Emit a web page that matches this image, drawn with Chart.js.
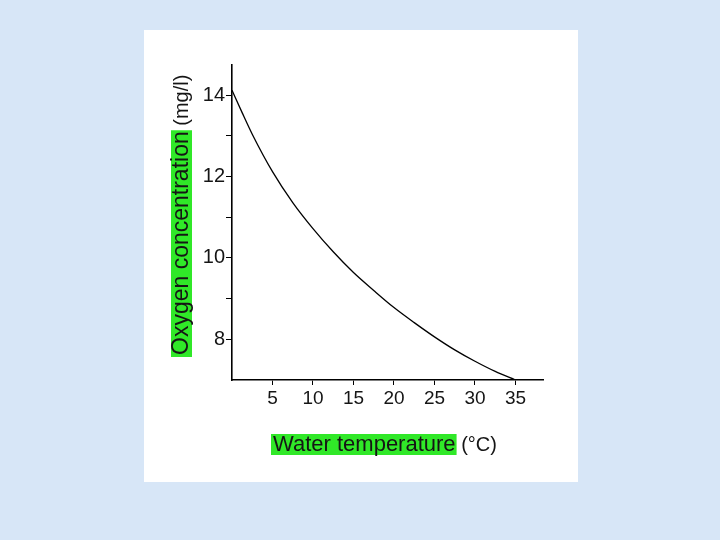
<!DOCTYPE html>
<html>
<head>
<meta charset="utf-8">
<script src="https://cdn.jsdelivr.net/npm/chart.js@4.4.1/dist/chart.umd.min.js"></script>
<style>
	html, body {
		margin: 0;
		padding: 0;
		width: 720px;
		height: 540px;
		background: #d7e6f7;
		overflow: hidden;
	}
	.panel {
		position: absolute;
		left: 144px;
		top: 30px;
		width: 434px;
		height: 452px;
		background: #ffffff;
	}
</style>
</head>
<body>
<div class="panel">
	<canvas id="oxygenChart"></canvas>
</div>
<script>
// oxygen solubility curve
const temps = [0, 1.25, 2.5, 5, 7.5, 10, 12.5, 15, 17.5, 20, 22.5, 25, 27.5, 30, 32.5, 35];
const oxygen = [14.12, 13.57, 13.04, 12.12, 11.36, 10.72, 10.15, 9.64, 9.2, 8.78, 8.41, 8.06, 7.74, 7.46, 7.21, 7.0];

const yTicks = [8, 9, 10, 11, 12, 13, 14];
const yLabelTicks = [8, 10, 12, 14];
const xTicks = [5, 10, 15, 20, 25, 30, 35];

const yTitleMain = 'Oxygen concentration';
const yTitleUnit = ' (mg/l)';
const xTitleMain = 'Water temperature';
const xTitleUnit = ' (°C)';

const points = temps.map((t, i) => ({ x: t, y: oxygen[i] }));

const yMainFont = '23px "Liberation Sans", Arial, sans-serif';
const xMainFont = '22px "Liberation Sans", Arial, sans-serif';
const unitFont = '20px "Liberation Sans", Arial, sans-serif';
const green = '#30e828';

// axis titles with green highlight
const titlePlugin = {
	id: 'titles',
	afterDraw(chart) {
		const ctx = chart.ctx;
		ctx.save();
		ctx.textBaseline = 'middle';
		ctx.textAlign = 'left';

		// y title
		ctx.save();
		ctx.translate(37, 325);
		ctx.rotate(-Math.PI / 2);
		ctx.font = yMainFont;
		let w = ctx.measureText(yTitleMain).width;
		ctx.fillStyle = green;
		ctx.fillRect(-2, -10, w + 3, 21);
		ctx.fillStyle = '#151515';
		ctx.fillText(yTitleMain, 0, 1);
		ctx.font = unitFont;
		ctx.fillText(yTitleUnit, w, 1);
		ctx.restore();

		// x title
		ctx.font = xMainFont;
		w = ctx.measureText(xTitleMain).width;
		ctx.fillStyle = green;
		ctx.fillRect(127, 404, w + 3, 21);
		ctx.fillStyle = '#151515';
		ctx.fillText(xTitleMain, 129, 415);
		ctx.font = unitFont;
		ctx.fillText(xTitleUnit, 129 + w, 415);
		ctx.restore();
	}
};

const config = {
	type: 'line',
	data: {
		datasets: [{
			label: '',
			data: points,
			borderColor: '#000000',
			borderWidth: 1.3,
			pointRadius: 0,
			fill: false,
			cubicInterpolationMode: 'monotone'
		}]
	},
	options: {
		responsive: true,
		maintainAspectRatio: false,
		animation: false,
		layout: {
			padding: { left: 0, top: 35, right: 35, bottom: 0 }
		},
		scales: {
			x: {
				type: 'linear',
				min: 0,
				max: 38.4,
				afterBuildTicks: (scale) => {
					scale.ticks = xTicks.map(v => ({ value: v }));
				},
				afterFit: (scale) => {
					scale.height = 102;
				},
				border: { display: true, color: '#000', width: 1.6 },
				grid: {
					drawOnChartArea: false,
					drawTicks: true,
					tickLength: 5,
					tickColor: '#000'
				},
				ticks: {
					color: '#151515',
					padding: 2,
					maxRotation: 0,
					font: { family: '"Liberation Sans", Arial, sans-serif', size: 19 },
				},
			},
			y: {
				min: 7,
				max: 14.74,
				afterBuildTicks: (scale) => {
					scale.ticks = yTicks.map(v => ({ value: v }));
				},
				afterFit: (scale) => {
					scale.width = 88;
				},
				border: { display: true, color: '#000', width: 1.6 },
				grid: {
					drawOnChartArea: false,
					drawTicks: true,
					tickLength: 6,
					tickColor: '#000'
				},
				ticks: {
					color: '#151515',
					padding: 1,
					callback: (v) => yLabelTicks.includes(v) ? String(v) : '',
					font: { family: '"Liberation Sans", Arial, sans-serif', size: 20 },
				},
			},
		},
		plugins: {
			legend: { display: false },
			tooltip: { enabled: false },
		},
	},
	plugins: [titlePlugin]
};

document.addEventListener('DOMContentLoaded', () => {
	const ctx = document.getElementById('oxygenChart').getContext('2d');
	new Chart(ctx, config);
});
</script>
</body>
</html>
